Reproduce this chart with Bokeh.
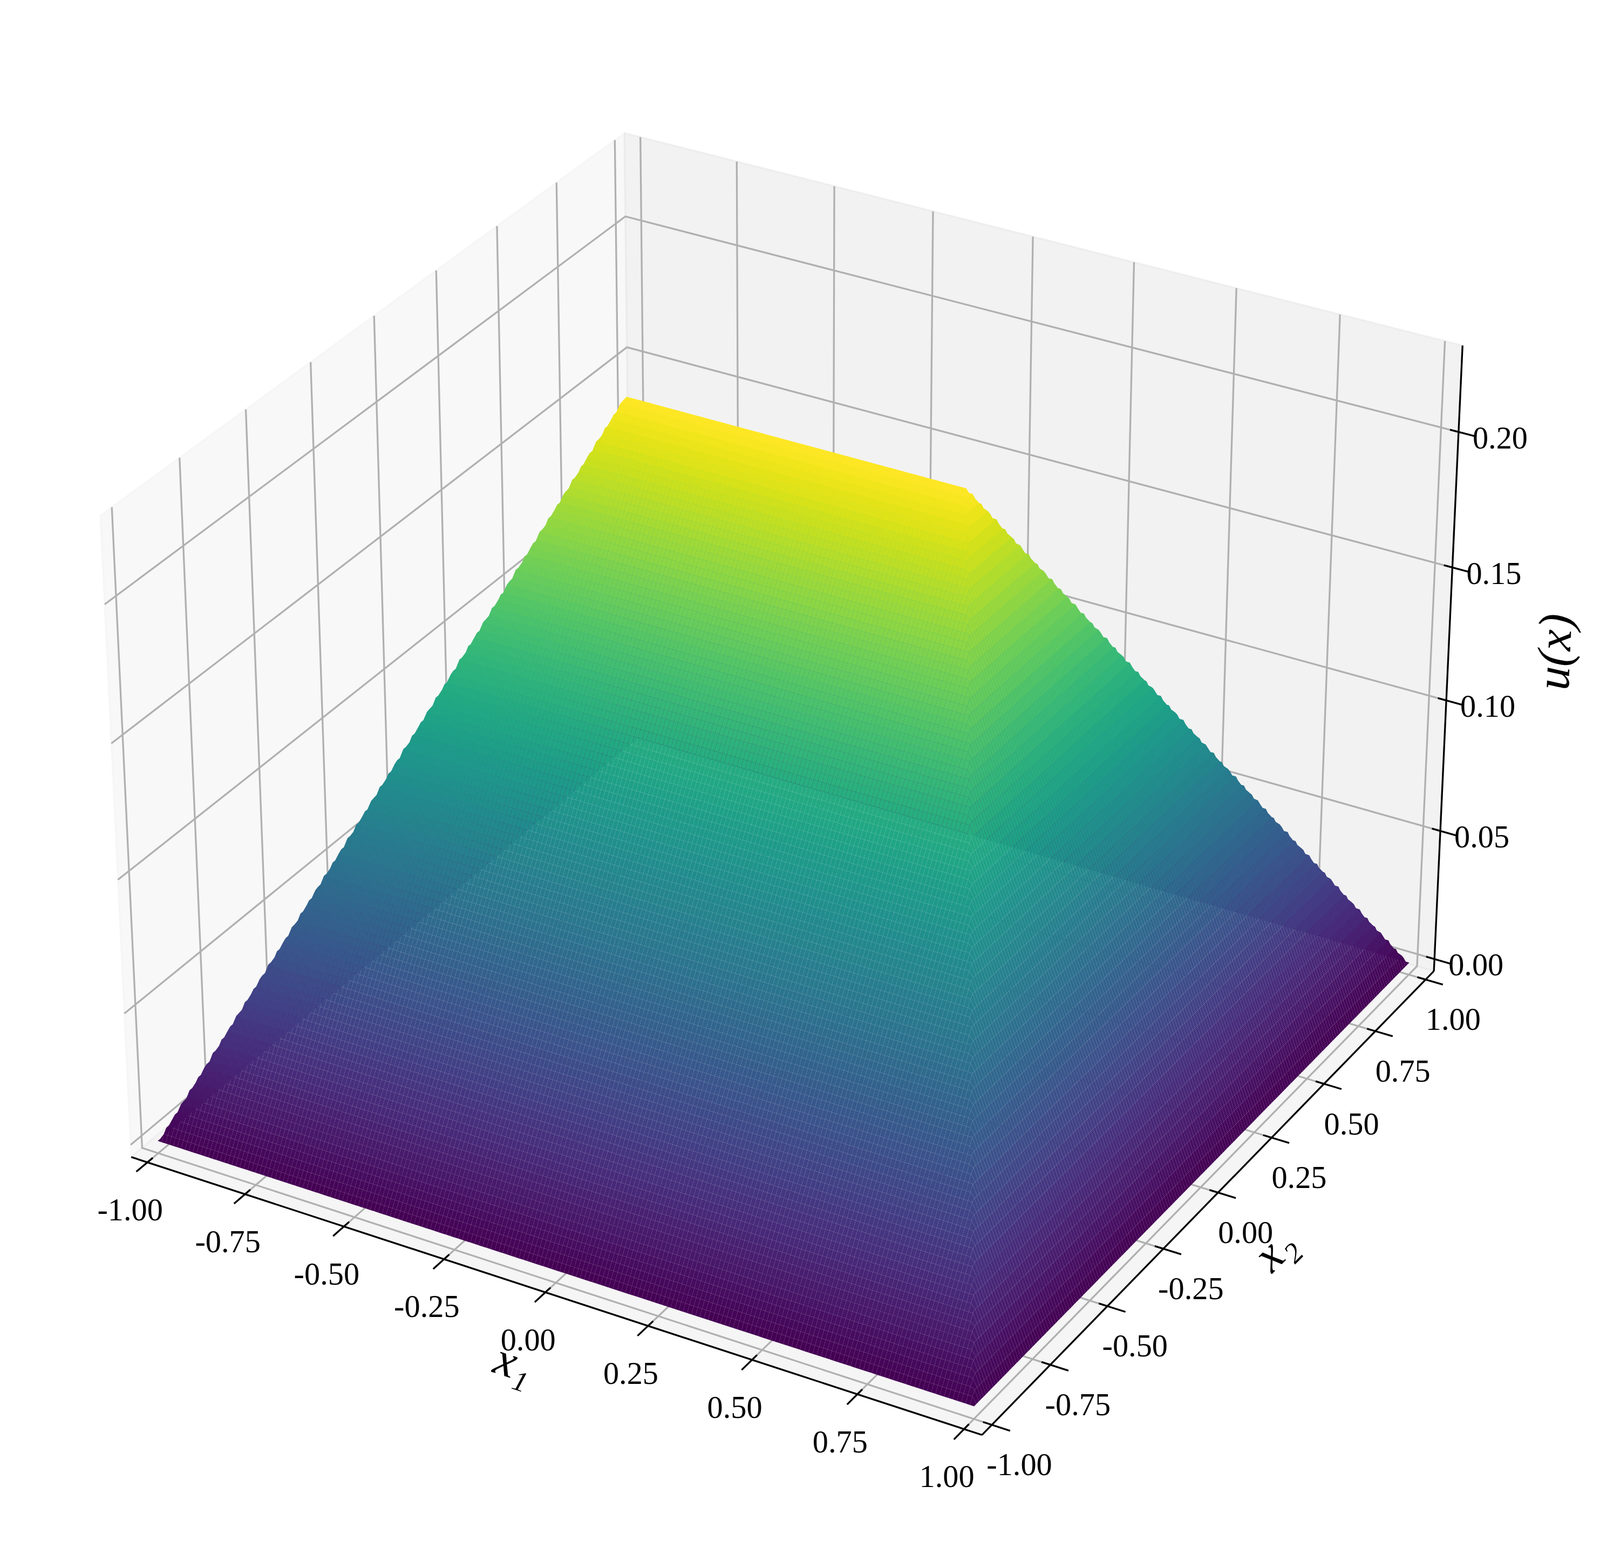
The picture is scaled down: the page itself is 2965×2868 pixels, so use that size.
import numpy as np
from bokeh.core.properties import value
from bokeh.embed import file_html
from bokeh.models import ColumnDataSource
from bokeh.palettes import Viridis256
from bokeh.plotting import figure
from bokeh.resources import INLINE

# ---- values ----
x1_ticks = [-1.0, -0.75, -0.5, -0.25, 0.0, 0.25, 0.5, 0.75, 1.0]
x2_ticks = [-1.0, -0.75, -0.5, -0.25, 0.0, 0.25, 0.5, 0.75, 1.0]
u_ticks = [0.0, 0.05, 0.10, 0.15, 0.20]
x1_tick_labels = ["-1.00", "-0.75", "-0.50", "-0.25", "0.00", "0.25", "0.50", "0.75", "1.00"]
x2_tick_labels = ["-1.00", "-0.75", "-0.50", "-0.25", "0.00", "0.25", "0.50", "0.75", "1.00"]
u_tick_labels = ["0.00", "0.05", "0.10", "0.15", "0.20"]

# The surface is a hip roof: it is described by the heights read at its edges,
# its ridge ends and its ridge line; the fine mesh is sampled from these.
x1_knots = [-1.0, -0.415, 0.415, 1.0]
x1_heights = [0.0, 0.2267, 0.2267, 0.0]
x2_knots = [-1.0, 0.0, 1.0]
x2_heights = [0.0, 0.2267, 0.0]
mesh_cells = 200

# ---- matplotlib-like 3D camera ----
ELEV, AZIM, DIST = np.radians(30.0), np.radians(-60.0), 10.0
XLIM = (-1.0 - 2.0 / 48, 1.0 + 2.0 / 48)
ZMAX = max(x1_heights)
ZLIM = (-ZMAX / 48, ZMAX + ZMAX / 48)
box = np.array([4.0, 4.0, 3.0])
box = box * 1.8294640721620434 * 25 / 24 / np.linalg.norm(box)
R = 0.5 * box
w_dir = np.array([np.cos(ELEV) * np.cos(AZIM), np.cos(ELEV) * np.sin(AZIM), np.sin(ELEV)])
EYE = R + DIST * w_dir
u_dir = np.cross([0, 0, 1.0], w_dir)
u_dir /= np.linalg.norm(u_dir)
v_dir = np.cross(w_dir, u_dir)


def project(x, y, z):
    x, y, z = np.asarray(x, float), np.asarray(y, float), np.asarray(z, float)
    bx = (x - XLIM[0]) / (XLIM[1] - XLIM[0]) * box[0] - EYE[0]
    by = (y - XLIM[0]) / (XLIM[1] - XLIM[0]) * box[1] - EYE[1]
    bz = (z - ZLIM[0]) / (ZLIM[1] - ZLIM[0]) * box[2] - EYE[2]
    d = -(w_dir[0] * bx + w_dir[1] * by + w_dir[2] * bz)
    return (u_dir[0] * bx + u_dir[1] * by) / d, (v_dir[0] * bx + v_dir[1] * by + v_dir[2] * bz) / d, d


W, H = 2949, 2852
SCALE, CX, CY = 15170.0, 1480.0, 1402.0
p = figure(
    width=W, height=H, output_backend="svg", toolbar_location=None,
    x_range=((8 - CX) / SCALE, (8 + W - CX) / SCALE),
    y_range=((CY - 8 - H) / SCALE, (CY - 8) / SCALE),
    min_border=0, outline_line_color=None, background_fill_color="white", border_fill_color="white",
)
p.axis.visible = False
p.grid.visible = False

lo, hi = XLIM
zlo, zhi = ZLIM
LW = 3.3


def pane(xs, ys, zs, c):
    px, py, _ = project(xs, ys, zs)
    p.patch(px.tolist(), py.tolist(), fill_color=c, fill_alpha=0.5, line_color=c, line_alpha=0.5, line_width=LW)


pane([lo, lo, lo, lo], [lo, hi, hi, lo], [zlo, zlo, zhi, zhi], "#f2f2f2")
pane([lo, hi, hi, lo], [hi, hi, hi, hi], [zlo, zlo, zhi, zhi], "#e6e6e6")
pane([lo, hi, hi, lo], [lo, lo, hi, hi], [zlo, zlo, zlo, zlo], "#ececec")


def poly(xs, ys, zs, color="#b0b0b0", width=LW):
    px, py, _ = project(xs, ys, zs)
    p.line(px.tolist(), py.tolist(), line_color=color, line_width=width, line_join="miter")


for t in x1_ticks:
    poly([t, t, t], [lo, hi, hi], [zlo, zlo, zhi])
for t in x2_ticks:
    poly([hi, lo, lo], [t, t, t], [zlo, zlo, zhi])
for t in u_ticks:
    poly([lo, lo, hi], [lo, hi, hi], [t, t, t])

poly([lo, hi], [lo, lo], [zlo, zlo], "black")
poly([hi, hi], [lo, hi], [zlo, zlo], "black")
poly([hi, hi], [hi, hi], [zlo, zhi], "black")

T_OUT, T_IN = 0.0425, 0.0205
for t in x1_ticks:
    poly([t, t], [lo + T_IN, lo - T_OUT], [zlo, zlo], "black")
for t in x2_ticks:
    poly([hi - T_IN, hi + T_OUT], [t, t], [zlo, zlo], "black")
for t in u_ticks:
    poly([hi - T_IN, hi + T_OUT], [hi, hi], [t, t], "black")

# ---- surface ----
grid = np.linspace(-1.0, 1.0, mesh_cells + 1)
prof1 = np.interp(grid, x1_knots, x1_heights)
prof2 = np.interp(grid, x2_knots, x2_heights)
X2, X1 = np.meshgrid(grid, grid, indexing="ij")
U = np.minimum(prof1[None, :], prof2[:, None])
SX, SY, SD = project(X1, X2, U)


def corners(a):
    return np.stack([a[:-1, :-1], a[:-1, 1:], a[1:, 1:], a[1:, :-1]], axis=-1).reshape(-1, 4)


cx, cy, cd, cu = corners(SX), corners(SY), corners(SD), corners(U)
avg = cu.mean(axis=1)
order = np.argsort(-cd.mean(axis=1))
idx = np.clip(((avg - avg.min()) / (avg.max() - avg.min()) * 256).astype(int), 0, 255)
colors = [Viridis256[i] for i in idx[order]]
source = ColumnDataSource(dict(
    xs=np.round(cx[order], 7).tolist(),
    ys=np.round(cy[order], 7).tolist(),
    c=colors,
))
p.patches("xs", "ys", source=source, fill_color="c", line_color=None, fill_alpha=1.0)

# ---- texts ----
FONT = value("Liberation Serif")


def labels(xs, ys, zs, txt, dx, dy):
    px, py, _ = project(xs, ys, zs)
    src = ColumnDataSource(dict(x=px.tolist(), y=py.tolist(), t=txt))
    p.text("x", "y", text="t", source=src, x_offset=dx, y_offset=dy, text_font=FONT,
           text_font_size="58.33px", text_align="center", text_baseline="middle", text_color="black")


n = len(x1_ticks)
labels(x1_ticks, [lo] * n, [zlo] * n, x1_tick_labels, -32, 88)
labels([hi] * n, x2_ticks, [zlo] * n, x2_tick_labels, 51, 74)
labels([hi] * len(u_ticks), [hi] * len(u_ticks), u_ticks, u_tick_labels, 77, 11)


def axis_label(x, y, z, txt, deg, dx, dy):
    px, py, _ = project([x], [y], [z])
    p.text(px.tolist(), py.tolist(), text=[txt], x_offset=dx, y_offset=dy, angle=np.radians(deg),
           text_font=value("Liberation Serif"), text_font_style="italic", text_font_size="88px",
           text_align="center", text_baseline="middle", text_color="black")


axis_label(0.0, lo, zlo, "x\u2081", -18, -58, 130)
axis_label(hi, 0.0, zlo, "x\u2082", 45, 104, 105)
axis_label(hi, hi, 0.1135, "u(x)", 87.5, 197, -24)

open("out.html", "w").write(file_html(p, INLINE))
